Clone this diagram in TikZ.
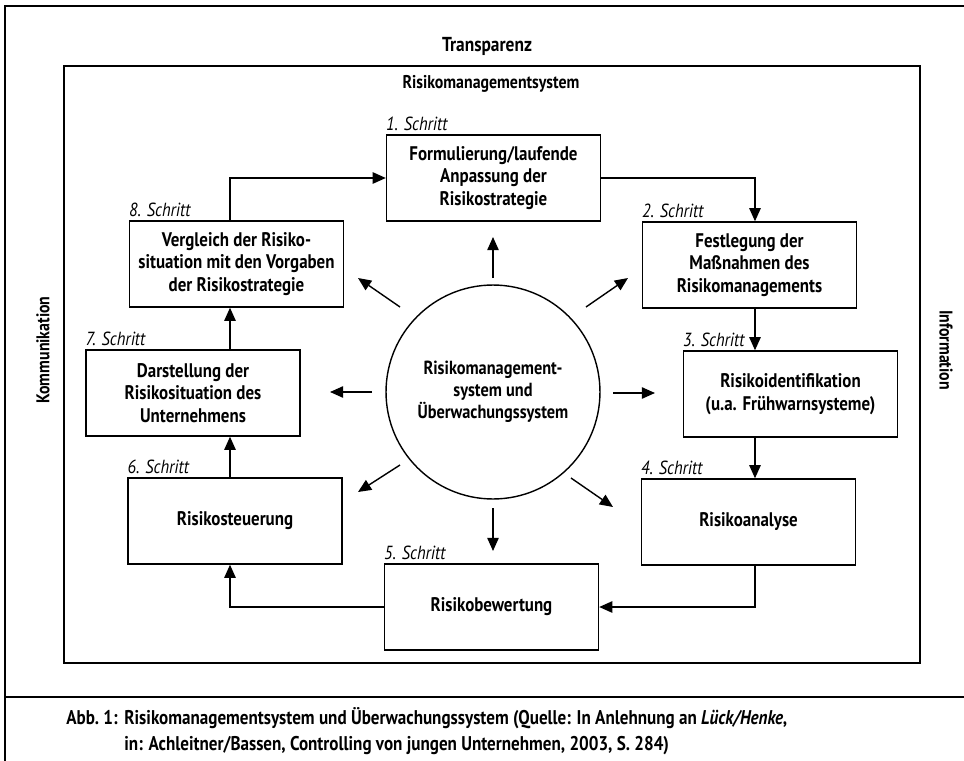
\documentclass[tikz,border=0pt]{standalone}
\usepackage{fontspec}
\setmainfont{PT Sans}[FakeStretch=0.86]
\usetikzlibrary{arrows.meta}
\tikzset{
  stepbox/.style={draw, line width=0.8pt, minimum width=4.28cm, minimum height=1.72cm, inner sep=0pt, align=center, font=\fontsize{11.2}{12.8}\selectfont\bfseries},
  steplabel/.style={anchor=south west, inner sep=0pt, yshift=2pt, font=\fontsize{10.8}{12}\selectfont\itshape},
  arr/.style={line width=0.8pt, -{Triangle[length=7.5pt,width=6.5pt]}},
  frame/.style={line width=0.8pt},
  bold/.style={font=\fontsize{10.5}{13}\selectfont\bfseries},
  captext/.style={anchor=base west, inner sep=0pt, font=\fontsize{11.3}{13}\selectfont\bfseries}
}
\begin{document}
\begin{tikzpicture}[x=0.02cm,y=-0.02cm]
\useasboundingbox (0,0) rectangle (964,761);
% outer frame
\draw[frame] (964,6) -- (5,6) -- (5,761);
\draw[frame] (5,697) -- (964,697);
% inner frame
\draw[frame] (64,66) rectangle (920,663);
\node[bold, font=\fontsize{11.5}{14}\selectfont\bfseries] (transp) at (487,46) {Transparenz};
\node[bold] (rms) at (491,84) {Risikomanagementsystem};
\node[bold, rotate=90] (komm) at (43,350) {Kommunikation};
\node[bold, rotate=-90] (info) at (946,350) {Information};
% boxes
\node[stepbox] (b1) at (493.5,178) {Formulierung/laufende\\Anpassung der\\Risikostrategie};
\node[stepbox] (b2) at (749.5,265) {Festlegung der\\Maßnahmen des\\Risikomanagements};
\node[stepbox] (b3) at (790.5,394) {Risikoidentifikation\\(u.a. Frühwarnsysteme)};
\node[stepbox] (b4) at (748.5,522) {Risikoanalyse};
\node[stepbox] (b5) at (491.5,607) {Risikobewertung};
\node[stepbox] (b6) at (235,521) {Risikosteuerung};
\node[stepbox] (b7) at (193,393) {Darstellung der\\Risikosituation des\\Unternehmens};
\node[stepbox] (b8) at (236.5,264) {Vergleich der Risiko-\\situation mit den Vorgaben\\der Risikostrategie};
% step labels
\node[steplabel] (s1) at (b1.north west) {1. Schritt};
\node[steplabel] (s2) at (b2.north west) {2. Schritt};
\node[steplabel] (s3) at (b3.north west) {3. Schritt};
\node[steplabel] (s4) at (b4.north west) {4. Schritt};
\node[steplabel] (s5) at (b5.north west) {5. Schritt};
\node[steplabel] (s6) at (b6.north west) {6. Schritt};
\node[steplabel] (s7) at (b7.north west) {7. Schritt};
\node[steplabel] (s8) at (b8.north west) {8. Schritt};
% column coordinates
\coordinate (colL) at (230,0);
\coordinate (colR) at (755,0);
% cycle connectors
\draw[arr] (b8.north -| colL) |- (b1.west);
\draw[arr] (b1.east) -| (b2.north -| colR);
\draw[arr] (b2.south -| colR) -- (b3.north -| colR);
\draw[arr] (b3.south -| colR) -- (b4.north -| colR);
\draw[arr] (b4.south -| colR) |- (b5.east);
\draw[arr] (b5.west) -| (b6.south -| colL);
\draw[arr] (b6.north -| colL) -- (b7.south -| colL);
\draw[arr] (b7.north -| colL) -- (b8.south -| colL);
% centre circle
\node[circle, draw, line width=0.8pt, minimum size=4.28cm, inner sep=0pt, align=center, font=\fontsize{10.8}{12.6}\selectfont\bfseries] (c) at (493,392) {Risikomanagement-\\system und\\Überwachungssystem};
% radiating arrows
\coordinate (uS) at (493,278);  \coordinate (uT) at (493,237);
\coordinate (ulS) at (400,307); \coordinate (ulT) at (358,278);
\coordinate (urS) at (586,307); \coordinate (urT) at (628,278);
\coordinate (lS) at (372,392);  \coordinate (lT) at (330,392);
\coordinate (rS) at (613,393);  \coordinate (rT) at (655,393);
\coordinate (dlS) at (400,465); \coordinate (dlT) at (358,492);
\coordinate (dS) at (493,508);  \coordinate (dT) at (493,551);
\coordinate (drS) at (571,478); \coordinate (drT) at (613,507);
\draw[arr] (uS) -- (uT);
\draw[arr] (ulS) -- (ulT);
\draw[arr] (urS) -- (urT);
\draw[arr] (lS) -- (lT);
\draw[arr] (rS) -- (rT);
\draw[arr] (dlS) -- (dlT);
\draw[arr] (dS) -- (dT);
\draw[arr] (drS) -- (drT);
% caption
\node[captext] (capA) at (66,724) {Abb.~1:};
\node[captext] (capB) at (124,724) {Risikomanagementsystem und Überwachungssystem (Quelle: In Anlehnung an \textit{Lück/Henke},};
\node[captext] (capC) at (124,750) {in: Achleitner/Bassen, Controlling von jungen Unternehmen, 2003, S.~284)};
\end{tikzpicture}
\end{document}
